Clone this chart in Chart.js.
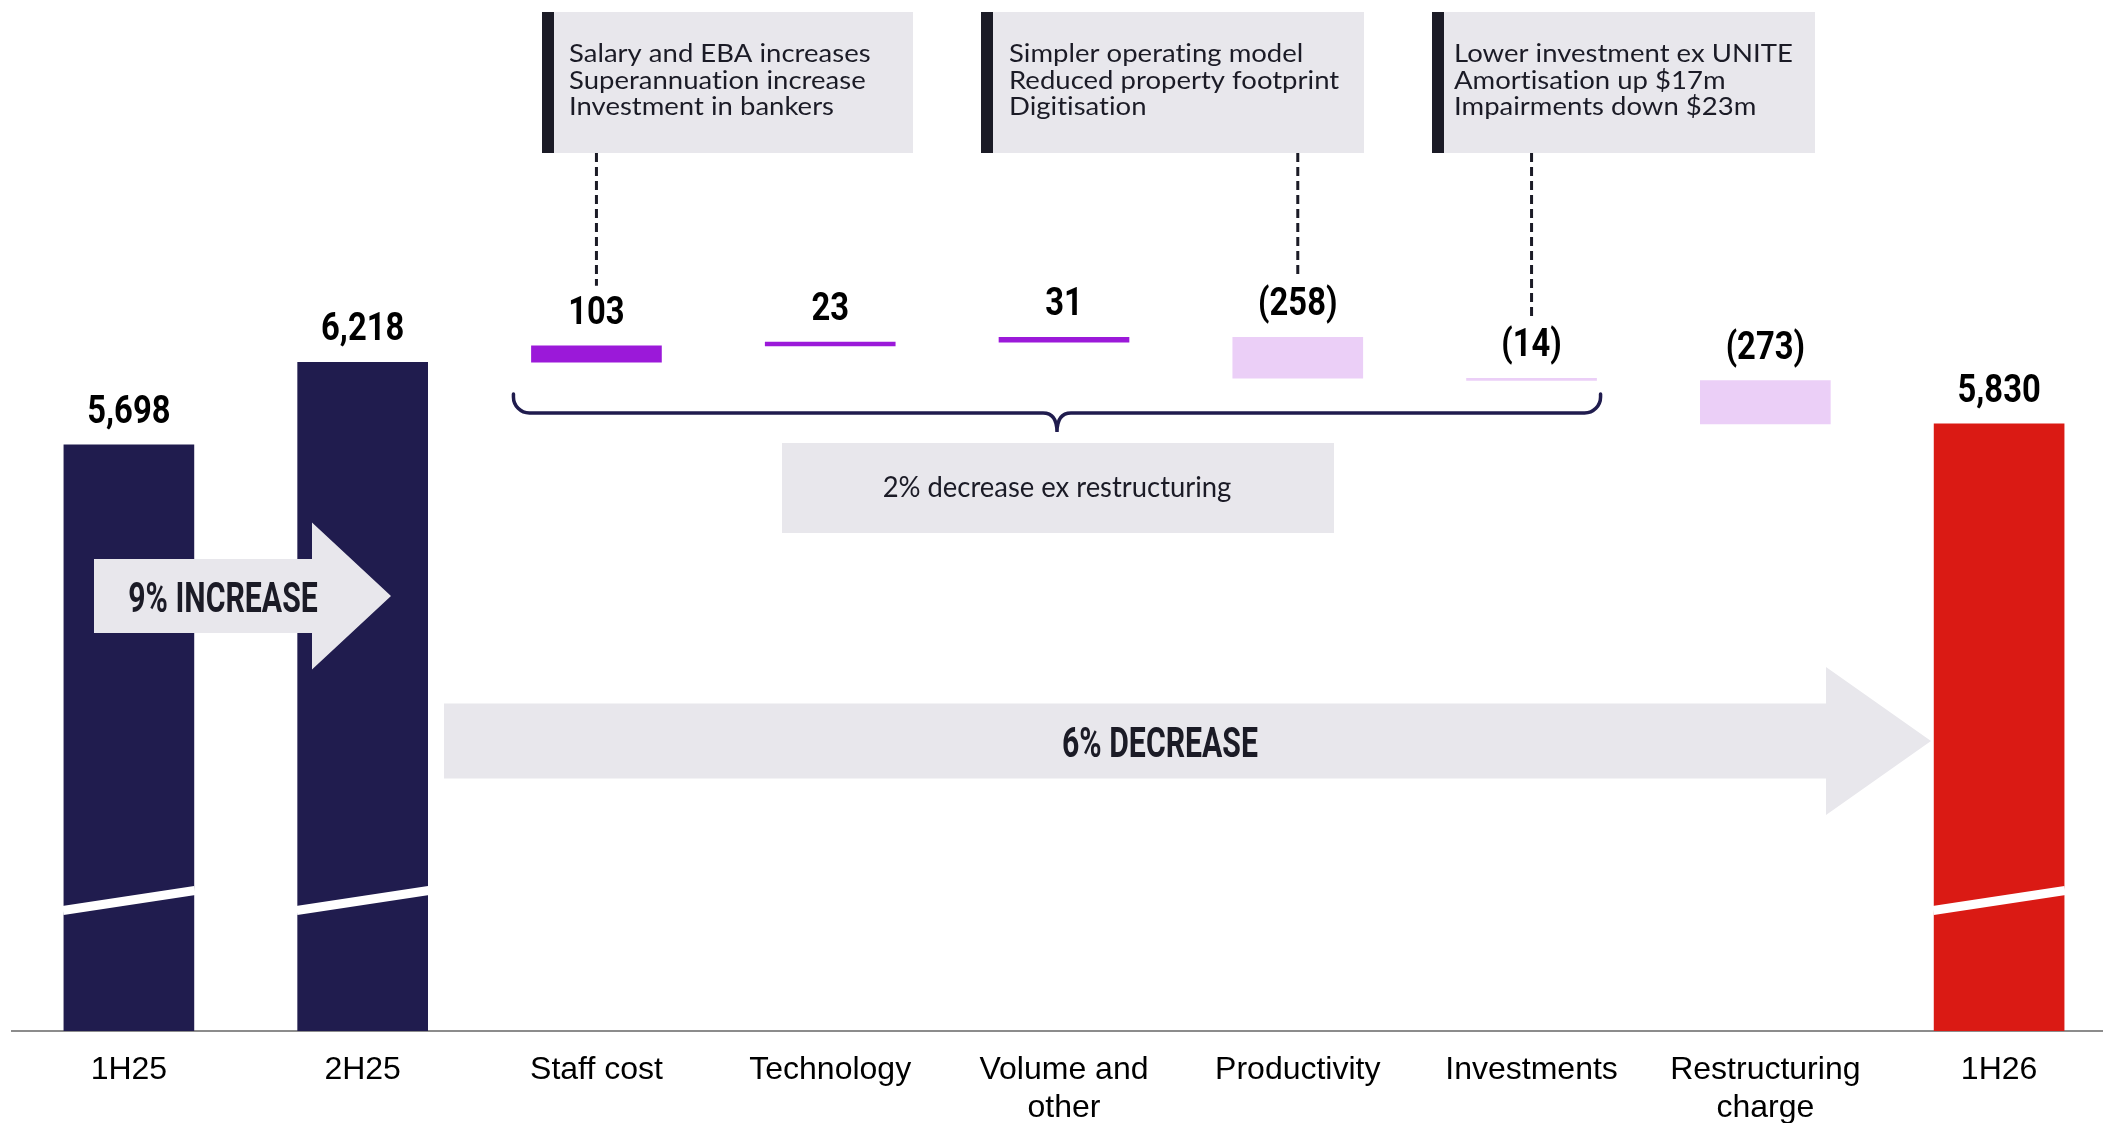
<!DOCTYPE html>
<html>
<head>
<meta charset="utf-8">
<script src="https://cdn.jsdelivr.net/npm/chart.js@4.4.1/dist/chart.umd.min.js"></script>
<style>
  html, body { margin: 0; padding: 0; background: #fff; overflow: hidden; }
  canvas { display: block; }
</style>
</head>
<body>
<canvas id="costChart" width="2116" height="1123"></canvas>
<script>
// Expense walk 1H25 -> 1H26 ($m)
const categories = ['1H25', '2H25', 'Staff cost', 'Technology', ['Volume and', 'other'], 'Productivity', 'Investments', ['Restructuring', 'charge'], '1H26'];
const movements = [5698, 6218, 103, 23, 31, -258, -14, -273, 5830];
const isTotal = [true, true, false, false, false, false, false, false, true];
const valueLabels = ['5,698', '6,218', '103', '23', '31', '(258)', '(14)', '(273)', '5,830'];

const staffNotes = ['Salary and EBA increases', 'Superannuation increase', 'Investment in bankers'];
const productivityNotes = ['Simpler operating model', 'Reduced property footprint', 'Digitisation'];
const investmentNotes = ['Lower investment ex UNITE', 'Amortisation up $17m', 'Impairments down $23m'];

const NAVY = '#201c4e';
const RED = '#da1a14';
const PURPLE = '#9b19d9';
const LILAC = '#ebcff7';
const PANEL = '#e8e7ec';
const INK = '#1b1b26';

// floating ranges for the waterfall
let running = 0;
const ranges = movements.map((v, i) => {
    if (isTotal[i]) { running = v; return [0, v]; }
    const start = running;
    running += v;
    return [start, running];
});

const barColors = movements.map((v, i) => {
    if (isTotal[i]) return i === movements.length - 1 ? RED : NAVY;
    return v >= 0 ? PURPLE : LILAC;
});

function condensed(ctx, text, x, y, sx) {
    ctx.save();
    ctx.translate(x, y);
    ctx.scale(sx, 1);
    ctx.fillText(text, 0, 0);
    ctx.restore();
}

function arrow(ctx, x0, x1, tip, yc, bodyH, headH) {
    ctx.beginPath();
    ctx.moveTo(x0, yc - bodyH / 2);
    ctx.lineTo(x1, yc - bodyH / 2);
    ctx.lineTo(x1, yc - headH / 2);
    ctx.lineTo(tip, yc);
    ctx.lineTo(x1, yc + headH / 2);
    ctx.lineTo(x1, yc + bodyH / 2);
    ctx.lineTo(x0, yc + bodyH / 2);
    ctx.closePath();
    ctx.fill();
}

const annotations = {
    id: 'annotations',
    afterDatasetsDraw(chart) {
        const { ctx, scales: { y } } = chart;
        const bars = chart.getDatasetMeta(0).data;
        const labelBase = bars.map(b => Math.min(b.y, b.base) - 22);
        ctx.save();

        // axis break marks on the total bars
        const yb = y.getPixelForValue(2833);
        ctx.strokeStyle = '#ffffff';
        ctx.lineWidth = 9;
        bars.forEach((b, i) => {
            if (!isTotal[i]) return;
            ctx.beginPath();
            ctx.moveTo(b.x - b.width / 2 - 1, yb + 10);
            ctx.lineTo(b.x + b.width / 2 + 1, yb - 10);
            ctx.stroke();
        });

        // arrows
        ctx.fillStyle = PANEL;
        arrow(ctx, 94, 312, 391, 596, 74, 147);
        arrow(ctx, 444, 1826, 1931, 741, 75, 148);
        ctx.fillStyle = INK;
        ctx.textAlign = 'center';
        ctx.textBaseline = 'alphabetic';
        ctx.font = 'bold 42px Roboto';
        condensed(ctx, '9% INCREASE', 223, 612, 0.72);
        condensed(ctx, '6% DECREASE', 1160, 757, 0.72);

        // value labels
        ctx.fillStyle = '#000';
        ctx.font = 'bold 39px Roboto';
        bars.forEach((b, i) => condensed(ctx, valueLabels[i], b.x, labelBase[i], 0.84));

        // note boxes with dashed leaders
        const boxes = [
            { idx: 2, left: 542, width: 371, pad: 27, lines: staffNotes },
            { idx: 5, left: 981, width: 383, pad: 28, lines: productivityNotes },
            { idx: 6, left: 1432, width: 383, pad: 22, lines: investmentNotes }
        ];
        boxes.forEach(bx => {
            ctx.fillStyle = PANEL;
            ctx.fillRect(bx.left, 12, bx.width, 141);
            ctx.fillStyle = INK;
            ctx.fillRect(bx.left, 12, 12, 141);
            ctx.font = '25px Lato';
            ctx.textAlign = 'left';
            ctx.letterSpacing = '0.01px'; // keeps "ti" from turning into a ligature
            bx.lines.forEach((t, k) => condensed(ctx, t, bx.left + bx.pad, 62 + k * 26.5, 1.1));
            ctx.letterSpacing = '0px';
            const lx = bars[bx.idx].x;
            ctx.strokeStyle = INK;
            ctx.lineWidth = 3;
            ctx.setLineDash([9, 5]);
            ctx.beginPath();
            ctx.moveTo(lx, 153);
            ctx.lineTo(lx, labelBase[bx.idx] - 38);
            ctx.stroke();
            ctx.setLineDash([]);
        });

        // brace over staff cost .. investments
        const L = bars[2].x - bars[2].width / 2 - 18;
        const R = bars[6].x + bars[6].width / 2 + 4;
        const C = (L + R) / 2;
        ctx.strokeStyle = NAVY;
        ctx.lineWidth = 3.5;
        ctx.lineCap = 'round';
        ctx.beginPath();
        ctx.moveTo(L, 394);
        ctx.arcTo(L, 413, L + 16, 413, 16);
        ctx.lineTo(C - 14, 413);
        ctx.bezierCurveTo(C - 4, 413, C, 420, C, 432);
        ctx.bezierCurveTo(C, 420, C + 4, 413, C + 14, 413);
        ctx.lineTo(R - 16, 413);
        ctx.arcTo(R, 413, R, 394, 16);
        ctx.lineTo(R, 394);
        ctx.stroke();

        ctx.fillStyle = PANEL;
        ctx.fillRect(C - 275, 443, 552, 90);
        ctx.fillStyle = INK;
        ctx.textAlign = 'center';
        ctx.font = '29px Lato';
        condensed(ctx, '2% decrease ex restructuring', C, 497, 0.945);

        ctx.restore();
    }
};

const ctx = document.getElementById('costChart').getContext('2d');
const costChart = new Chart(ctx, {
    type: 'bar',
    data: {
        labels: categories,
        datasets: [{
            data: ranges,
            backgroundColor: barColors,
            borderWidth: 0,
            barThickness: 130
        }]
    },
    options: {
        responsive: false,
        animation: false,
        layout: { padding: { left: 12, right: 0, top: 0, bottom: 0 } },
        plugins: {
            legend: { display: false },
            tooltip: { enabled: false }
        },
        scales: {
            x: {
                grid: { display: false, drawTicks: false },
                border: { display: true, color: '#8c8c8c', width: 2 },
                ticks: {
                    color: '#000',
                    padding: 20,
                    maxRotation: 0,
                    autoSkip: false,
                    font: { family: 'Liberation Sans, Arial', size: 32 }
                },
                afterFit: (scale) => { scale.height = 92; }
            },
            y: {
                display: false,
                min: 2012,
                max: 8496
            }
        }
    },
    plugins: [annotations]
});
</script>
</body>
</html>
